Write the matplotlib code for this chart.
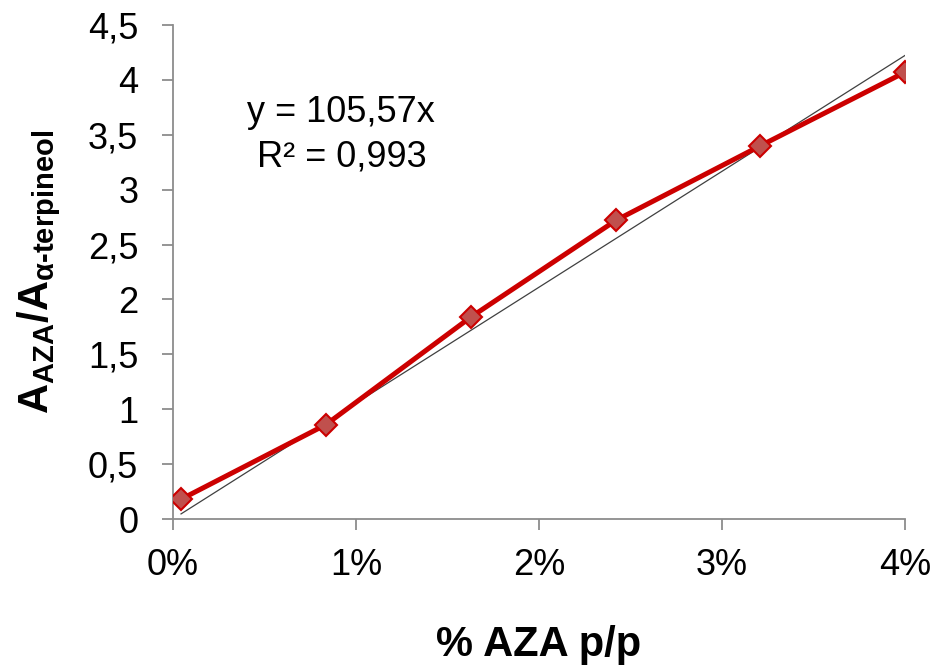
import numpy as np
from matplotlib import pyplot as plt
from matplotlib.ticker import FuncFormatter, MultipleLocator

plt.rcParams['font.family'] = ['Liberation Sans', 'DejaVu Sans']
plt.rcParams['mathtext.fontset'] = 'custom'
plt.rcParams['mathtext.rm'] = 'Liberation Sans:bold'
plt.rcParams['mathtext.bf'] = 'Liberation Sans:bold'
plt.rcParams['mathtext.it'] = 'Liberation Sans:bold'

# concentration (fraction w/w) and area ratio
conc = [0.00044, 0.00836, 0.01628, 0.0242, 0.0321, 0.0400]
ratio = [0.18, 0.86, 1.84, 2.72, 3.40, 4.07]
slope = 105.57
r2 = 0.993

fig = plt.figure(figsize=(9.35, 6.69), dpi=100)
ax = fig.add_axes([0.185, 0.2242, 0.783, 0.7385])

# linear fit through origin
xt = np.array([conc[0], conc[-1]])
ax.plot(xt, slope * xt, color='#404040', linewidth=0.9, zorder=2)

ax.plot(conc, ratio, color='#CC0000', linewidth=3.6, marker='D',
        markersize=11, markerfacecolor='#C0504D', markeredgecolor='#CC0000',
        markeredgewidth=1.5, zorder=3)

ax.set_xlim(0, 0.04)
ax.set_ylim(0, 4.5)
ax.xaxis.set_major_locator(MultipleLocator(0.01))
ax.yaxis.set_major_locator(MultipleLocator(0.5))
ax.xaxis.set_major_formatter(FuncFormatter(lambda v, p: '%d%%' % round(v * 100)))
ax.yaxis.set_major_formatter(FuncFormatter(lambda v, p: ('%g' % v).replace('.', ',')))

for s in ['top', 'right']:
    ax.spines[s].set_visible(False)
for s in ['left', 'bottom']:
    ax.spines[s].set_color('#8c8c8c')
    ax.spines[s].set_linewidth(1.3)
ax.tick_params(colors='#8c8c8c', labelcolor='black', length=8, width=1.3,
               labelsize=26)
ax.tick_params(axis='x', pad=13)
ax.tick_params(axis='y', pad=17)

ax.text(0.0092, 3.50, 'y = %sx\nR² = %s' % (('%.2f' % slope).replace('.', ','),
                                          ('%.3f' % r2).replace('.', ',')),
        fontsize=26, ha='center', va='center', linespacing=1.35)

ax.set_xlabel('% AZA p/p', fontsize=30, fontweight='bold', labelpad=30)
ax.set_ylabel(r'$\mathbf{A_{AZA}/A_{α\text{-}terpineol}}$', fontsize=30,
              labelpad=18)

fig.savefig('out.png', dpi=100)
